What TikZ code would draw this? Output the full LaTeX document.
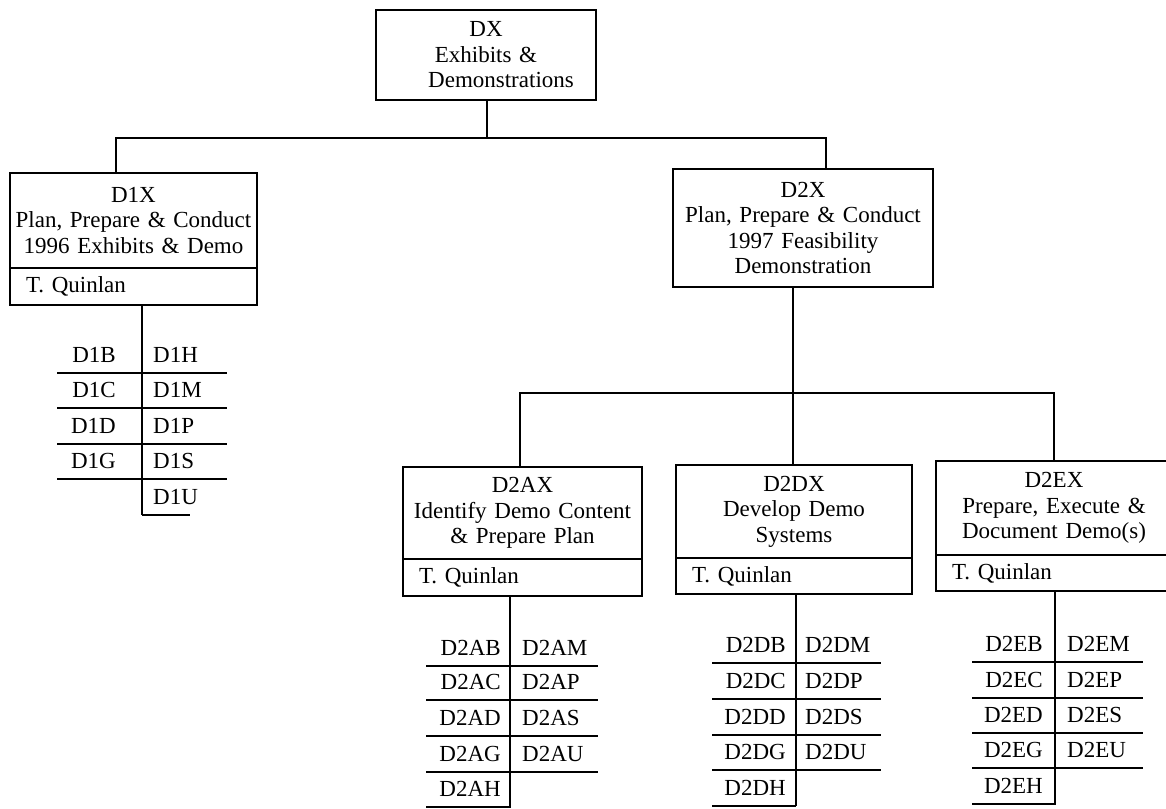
\documentclass[tikz,border=0pt]{standalone}
\usepackage{fontspec}
\setmainfont{Liberation Serif}
\usetikzlibrary{calc}
\begin{document}
\begin{tikzpicture}[x=1pt,y=-1pt,
  every node/.style={font=\fontsize{23}{25.5}\selectfont},
  conn/.style={line width=2.2pt},
  rule/.style={line width=2.2pt},
  topbox/.style={draw,line width=2.2pt,outer sep=0pt,inner xsep=2pt,inner ysep=0pt,align=center},
  ownerbox/.style={draw,line width=2.2pt,outer sep=0pt,inner xsep=16pt,inner ysep=0pt,align=left,anchor=north west},
  item/.style={inner sep=0pt}]
\useasboundingbox (0,0) rectangle (1166,808);

% boxes
\node[topbox,minimum width=220pt,minimum height=90pt,text width=216pt] (dx) at (486,55)
  {DX\\Exhibits \&\\\hspace*{30pt}Demonstrations};

\node[topbox,minimum width=247pt,minimum height=95pt,text width=243pt] (d1x) at (133.5,220.5)
  {D1X\\Plan, Prepare \& Conduct\\1996 Exhibits \& Demo};
\node[ownerbox,minimum width=247pt,minimum height=37pt,text width=215pt] (d1xo) at (d1x.south west) {T. Quinlan};

\node[topbox,minimum width=260pt,minimum height=118pt,text width=256pt] (d2x) at (803,228)
  {D2X\\Plan, Prepare \& Conduct\\1997 Feasibility\\Demonstration};

\node[topbox,minimum width=239pt,minimum height=92pt,text width=235pt] (d2ax) at (522.5,513)
  {D2AX\\Identify Demo Content\\\& Prepare Plan};
\node[ownerbox,minimum width=239pt,minimum height=37pt,text width=207pt] (d2axo) at (d2ax.south west) {T. Quinlan};

\node[topbox,minimum width=236pt,minimum height=93pt,text width=232pt] (d2dx) at (794,511.5)
  {D2DX\\Develop Demo\\Systems};
\node[ownerbox,minimum width=236pt,minimum height=36pt,text width=204pt] (d2dxo) at (d2dx.south west) {T. Quinlan};

\node[topbox,minimum width=236pt,minimum height=94pt,text width=232pt] (d2ex) at (1054,508)
  {D2EX\\Prepare, Execute \&\\Document Demo(s)};
\node[ownerbox,minimum width=236pt,minimum height=36pt,text width=204pt] (d2exo) at (d2ex.south west) {T. Quinlan};

% connectors level 1
\coordinate (j0) at (487,138);
\coordinate (jl) at (116,138);
\coordinate (jr) at (826,138);
\draw[conn] (dx.south -| j0) -- (j0);
\draw[conn] (d1x.north -| jl) -- (jl) -- (jr) -- (d2x.north -| jr);

% connectors level 2
\coordinate (k0) at (793,393);
\coordinate (kl) at (520,393);
\coordinate (kr) at (1054,393);
\draw[conn] (d2x.south -| k0) -- (d2dx.north -| k0);
\draw[conn] (d2ax.north -| kl) -- (kl) -- (kr) -- (d2ex.north -| kr);

% list stems
\coordinate (s1) at (142,515);
\coordinate (s2a) at (510,808);
\coordinate (s2d) at (796,806);
\coordinate (s2e) at (1055,805);
\draw[conn] (d1xo.south -| s1) -- (s1);
\draw[conn] (d2axo.south -| s2a) -- (s2a);
\draw[conn] (d2dxo.south -| s2d) -- (s2d);
\draw[conn] (d2exo.south -| s2e) -- (s2e);

% D1 list
\foreach \y in {373,408,444,479} \draw[rule] (57,\y) -- (227,\y);
\draw[rule] (142,515) -- (190,515);
\foreach \lab/\y in {D1B/373,D1C/408,D1D/444,D1G/479}
  \node[item,anchor=base east] (\lab) at (116,\y-11) {\lab};
\foreach \lab/\y in {D1H/373,D1M/408,D1P/444,D1S/479,D1U/515}
  \node[item,anchor=base west] (\lab) at (153,\y-11) {\lab};

% D2A list
\foreach \y in {666,700,736,772} \draw[rule] (426,\y) -- (598,\y);
\draw[rule] (426,807) -- (510,807);
\foreach \lab/\y in {D2AB/666,D2AC/700,D2AD/736,D2AG/772,D2AH/807}
  \node[item,anchor=base east] (\lab) at (501,\y-11) {\lab};
\foreach \lab/\y in {D2AM/666,D2AP/700,D2AS/736,D2AU/772}
  \node[item,anchor=base west] (\lab) at (522,\y-11) {\lab};

% D2D list
\foreach \y in {663,699,735,770} \draw[rule] (712,\y) -- (881,\y);
\draw[rule] (712,806) -- (796,806);
\foreach \lab/\y in {D2DB/663,D2DC/699,D2DD/735,D2DG/770,D2DH/806}
  \node[item,anchor=base east] (\lab) at (786,\y-11) {\lab};
\foreach \lab/\y in {D2DM/663,D2DP/699,D2DS/735,D2DU/770}
  \node[item,anchor=base west] (\lab) at (805,\y-11) {\lab};

% D2E list
\foreach \y in {662,698,733,768} \draw[rule] (972,\y) -- (1143,\y);
\draw[rule] (972,804) -- (1055,804);
\foreach \lab/\y in {D2EB/662,D2EC/698,D2ED/733,D2EG/768,D2EH/804}
  \node[item,anchor=base east] (\lab) at (1043,\y-11) {\lab};
\foreach \lab/\y in {D2EM/662,D2EP/698,D2ES/733,D2EU/768}
  \node[item,anchor=base west] (\lab) at (1067,\y-11) {\lab};
\end{tikzpicture}
\end{document}
